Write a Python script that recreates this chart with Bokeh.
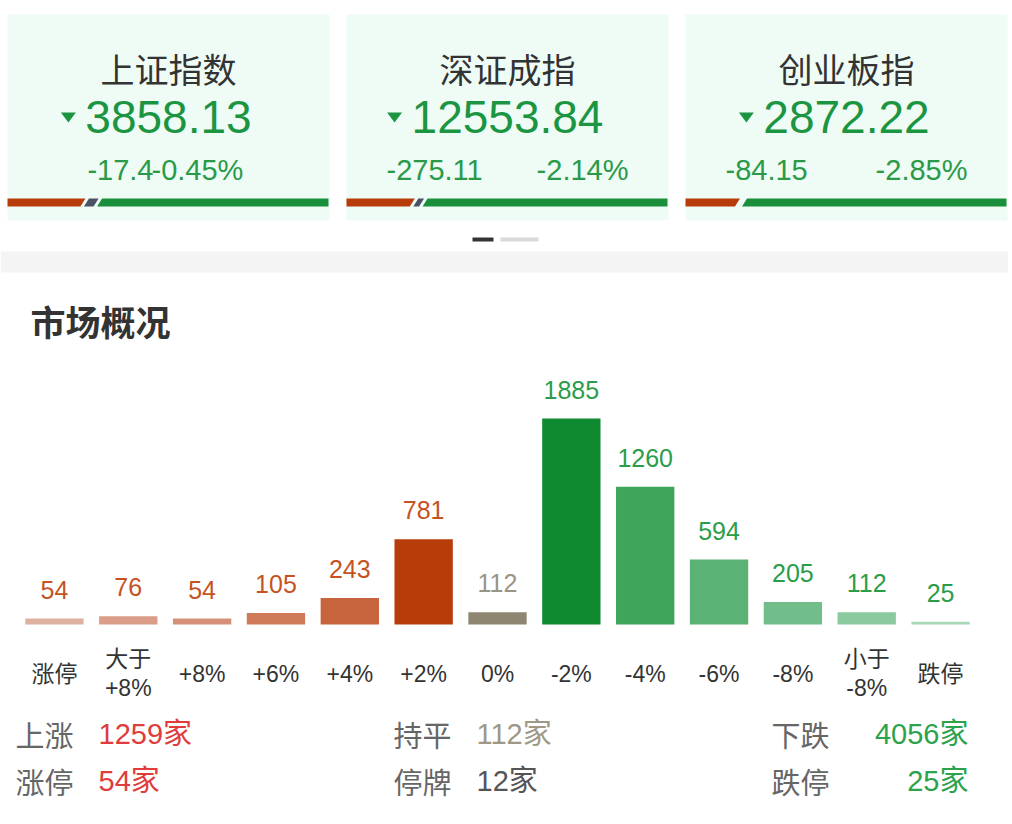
from bokeh.plotting import figure
from bokeh.layouts import column
from bokeh.models import Range1d, FactorRange, ColumnDataSource
from bokeh.core.properties import value
from bokeh.embed import file_html
from bokeh.resources import INLINE

# ---------------- data ----------------
index_names = ["上证指数", "深证成指", "创业板指"]
index_values = ["3858.13", "12553.84", "2872.22"]
index_changes = ["-17.4", "-275.11", "-84.15"]
index_pcts = ["-0.45%", "-2.14%", "-2.85%"]
card_up_share = [0.235, 0.205, 0.162]
card_flat_share = [0.03, 0.018, 0.0]

categories = ["涨停", "大于\n+8%", "+8%", "+6%", "+4%", "+2%", "0%",
              "-2%", "-4%", "-6%", "-8%", "小于\n-8%", "跌停"]
counts = [54, 76, 54, 105, 243, 781, 112, 1885, 1260, 594, 205, 112, 25]
bar_colors = ["#dfb1a1", "#da9d87", "#d59177", "#cf7a58", "#c7643e", "#b83c0a",
              "#8e8671", "#0f8a31", "#3ea55b", "#5ab274", "#72be8b", "#8bca9f", "#a7d8b5"]
label_colors = ["#c4531f"] * 6 + ["#9a9485"] + ["#2a9d4a"] * 6

suspended = 12
summary_names = ["上涨", "持平", "下跌", "涨停", "停牌", "跌停"]

# ---------------- fonts / colours ----------------
CJK = "Noto Sans CJK SC"
NUM = "'Liberation Sans', 'Noto Sans CJK SC'"
GREEN = "#1b9541"
GREEN2 = "#2a9a48"
DARK = "#333333"
PW = 1008

def base_fig(w, h, xr, yr, **kw):
    f = figure(width=w, height=h, x_range=xr, y_range=yr,
               output_backend="svg", toolbar_location=None,
               x_axis_location=None, y_axis_location=None,
               outline_line_color=None, **kw)
    f.grid.visible = False
    f.frame_align = False
    return f

# ================= top panel (cards + title) =================
top = base_fig(PW, 352, Range1d(0, PW), Range1d(352, 0), min_border=0)

card_left = [7, 346, 685]
card_w = 322
card_cx = [l + card_w / 2 for l in card_left]

top.quad(left=card_left, right=[l + card_w for l in card_left], top=14, bottom=220,
         fill_color="#effcf6", line_color=None)

top.text(x=card_cx, y=[68] * 3, text=index_names, text_font=value(CJK),
         text_font_size="34px", text_color=DARK, text_align="center", text_baseline="middle")

top.text(x=card_cx, y=[116] * 3, text=index_values, text_font=value(NUM),
         text_font_size="46px", text_color=GREEN, text_align="center", text_baseline="middle")

# down triangles left of the numbers
tri_xs, tri_ys = [], []
for cx, v in zip(card_cx, index_values):
    wnum = 46 * (0.556 * sum(ch.isdigit() for ch in v) + 0.278)
    tx = cx - wnum / 2 - 17
    tri_xs.append([tx - 7.5, tx + 7.5, tx])
    tri_ys.append([112, 112, 122])
top.patches(tri_xs, tri_ys, fill_color=GREEN, line_color=None)

# change texts
chg_x, chg_align, pct_x, pct_align = [], [], [], []
for i, l in enumerate(card_left):
    if i == 0:
        chg_x.append(l + 146); chg_align.append("right")
        pct_x.append(l + 144); pct_align.append("left")
    else:
        chg_x.append(l + 40); chg_align.append("left")
        pct_x.append(l + card_w - 40); pct_align.append("right")
csrc = ColumnDataSource(dict(cx=chg_x, ca=chg_align, ct=index_changes,
                             px=pct_x, pa=pct_align, pt=index_pcts, y=[169] * 3))
top.text(x="cx", y="y", text="ct", text_align="ca", source=csrc, text_font=value(NUM),
         text_font_size="29px", text_color=GREEN2, text_baseline="middle")
top.text(x="px", y="y", text="pt", text_align="pa", source=csrc, text_font=value(NUM),
         text_font_size="29px", text_color=GREEN2, text_baseline="middle")

# ratio bars (up / flat / down)
yt, yb, sl, gap = 198, 206, 5, 3.5
seg_xs, seg_ys, seg_col = [], [], []
for l, up, fl in zip(card_left, card_up_share, card_flat_share):
    W = card_w - 1
    r = l + W
    a = l + W * up
    seg_xs.append([l, a + sl / 2, a - sl / 2, l]); seg_ys.append([yt, yt, yb, yb]); seg_col.append("#b83c0a")
    b = a + gap
    if fl > 0:
        c = b + W * fl
        seg_xs.append([b + sl / 2, c + sl / 2, c - sl / 2, b - sl / 2]); seg_ys.append([yt, yt, yb, yb])
        seg_col.append("#4b5263")
        b = c + gap
    else:
        b = b + gap
    seg_xs.append([b + sl / 2, r, r, b - sl / 2]); seg_ys.append([yt, yt, yb, yb]); seg_col.append("#1a8f3b")
top.patches(seg_xs, seg_ys, fill_color=seg_col, line_color=None)

# page indicator + separator band
top.quad(left=[472, 500], right=[493, 538], top=237, bottom=241,
         fill_color=["#333333", "#d9d9d9"], line_color=None)
top.quad(left=0, right=PW, top=251, bottom=272, fill_color="#f4f4f4", line_color=None)

top.text(x=[30], y=[320], text=["市场概况"], text_font=value(CJK), text_font_style="bold",
         text_font_size="35px", text_color=DARK, text_align="left", text_baseline="middle")

# ================= bar chart =================
px_per_unit = 206 / 1885
bars = base_fig(PW, 348, FactorRange(*categories),
                Range1d(-76 / px_per_unit, 272 / px_per_unit),
                min_border_left=17, min_border_right=PW - 977,
                min_border_top=0, min_border_bottom=0)

bsrc = ColumnDataSource(dict(
    cat=categories, count=counts, color=bar_colors, lcolor=label_colors,
    text=[str(c) for c in counts],
    label_y=[c + 29 / px_per_unit for c in counts],
    cat_y=[-49 / px_per_unit] * len(categories),
))
bars.vbar(x="cat", top="count", bottom=0, width=0.79, fill_color="color",
          line_color=None, source=bsrc)
bars.text(x="cat", y="label_y", text="text", text_color="lcolor", source=bsrc,
          text_font=value(NUM), text_font_size="25px", text_align="center",
          text_baseline="alphabetic")
bars.text(x="cat", y="cat_y", text="cat", source=bsrc, text_color=DARK,
          text_font=value(NUM), text_font_size="23px", text_align="center",
          text_baseline="middle", text_line_height=1.1)

# ================= summary =================
total_up = sum(counts[1:6])
total_flat = counts[6]
total_down = sum(counts[7:12])
summary_values = [f"{total_up}家", f"{total_flat}家", f"{total_down}家",
                  f"{counts[0]}家", f"{suspended}家", f"{counts[12]}家"]
summary_colors = ["#e03c3c", "#9e9886", "#2ca24c", "#e03c3c", "#555555", "#2ca24c"]

bottom = base_fig(PW, 118, Range1d(0, PW), Range1d(818, 700), min_border=0)

name_x = [15, 393, 771] * 2
row_y = [733] * 3 + [780] * 3
bottom.text(x=name_x, y=row_y, text=summary_names, text_font=value(CJK),
            text_font_size="29px", text_color="#666666", text_align="left",
            text_baseline="middle")
ssrc = ColumnDataSource(dict(
    x=[98, 476, 968, 98, 476, 968], y=row_y, t=summary_values, c=summary_colors,
    a=["left", "left", "right", "left", "left", "right"]))
bottom.text(x="x", y="y", text="t", text_color="c", text_align="a", source=ssrc,
            text_font=value(NUM), text_font_size="29px", text_baseline="middle")

layout = column(top, bars, bottom, spacing=0)
open("out.html", "w").write(file_html(layout, INLINE))
